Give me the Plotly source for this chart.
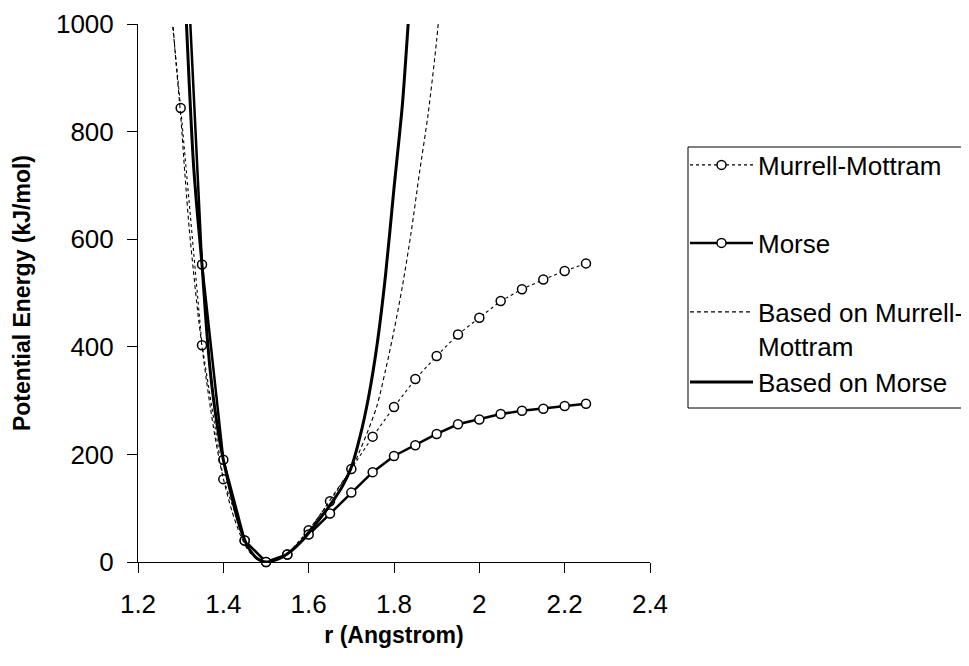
import plotly.graph_objects as go

# --- data ---
mm_r = [1.25, 1.30, 1.35, 1.40, 1.45, 1.50, 1.55, 1.60, 1.65, 1.70, 1.75, 1.80,
        1.85, 1.90, 1.95, 2.00, 2.05, 2.10, 2.15, 2.20, 2.25]
mm_e = [1250, 844, 403, 154, 40, 0, 14, 59, 113, 173, 233, 288,
        340, 383, 423, 454, 485, 507, 525, 541, 555]

morse_r = [1.30, 1.35, 1.40, 1.45, 1.50, 1.55, 1.60, 1.65, 1.70, 1.75, 1.80,
           1.85, 1.90, 1.95, 2.00, 2.05, 2.10, 2.15, 2.20, 2.25]
morse_e = [1370, 553, 190, 40, 0, 14, 51, 90, 129, 167, 197,
           217, 238, 256, 265, 275, 281, 285, 290, 294]

bmm_r = [1.27, 1.28, 1.29, 1.30, 1.31, 1.32, 1.33, 1.34, 1.35, 1.36, 1.37, 1.38,
         1.39, 1.40, 1.42, 1.44, 1.46, 1.48, 1.50, 1.52, 1.54, 1.56, 1.58, 1.60,
         1.62, 1.64, 1.66, 1.68, 1.70, 1.72, 1.74, 1.76, 1.78, 1.80, 1.82, 1.84,
         1.86, 1.88, 1.90, 1.91]
bmm_e = [1150, 1020, 920, 830, 720, 620, 540, 465, 400, 340, 285, 235,
         192, 155, 95, 50, 20, 5, 0, 3, 10, 22, 38, 58,
         80, 103, 127, 150, 172, 207, 246, 290, 356, 430, 514, 612,
         725, 833, 970, 1060]

bm_r = [1.30, 1.31, 1.32, 1.33, 1.34, 1.35, 1.36, 1.37, 1.38, 1.39, 1.40, 1.42,
        1.44, 1.46, 1.48, 1.50, 1.52, 1.54, 1.56, 1.58, 1.60, 1.62, 1.64, 1.66,
        1.68, 1.70, 1.72, 1.74, 1.76, 1.78, 1.80, 1.81, 1.82, 1.83, 1.84]
bm_e = [1200, 1060, 890, 740, 640, 553, 440, 350, 285, 232, 190, 120,
        62, 25, 6, 0, 3, 10, 21, 36, 54, 74, 95, 117,
        142, 176, 232, 305, 402, 532, 695, 772, 853, 963, 1080]

x_ticks = [1.2, 1.4, 1.6, 1.8, 2.0, 2.2, 2.4]
y_ticks = [0, 200, 400, 600, 800, 1000]

FONT = "Liberation Sans, Arial, sans-serif"
marker_style = dict(symbol="circle", size=9, color="white",
                    line=dict(color="black", width=1.5))

fig = go.Figure()
fig.add_trace(go.Scatter(
    x=mm_r, y=mm_e, mode="lines+markers", name="Murrell-Mottram",
    line=dict(color="black", width=1.1, dash="3px,3px"),
    marker=marker_style, cliponaxis=False, legend="legend", showlegend=True))
fig.add_trace(go.Scatter(
    x=morse_r, y=morse_e, mode="lines+markers", name="Morse",
    line=dict(color="black", width=2.5),
    marker=marker_style, cliponaxis=False, legend="legend2", showlegend=True))
fig.add_trace(go.Scatter(
    x=bmm_r, y=bmm_e, mode="lines", name="Based on Murrell-<br>Mottram",
    line=dict(color="black", width=1.1, dash="4px,3px", shape="spline", smoothing=0.8),
    legend="legend3", showlegend=True))
fig.add_trace(go.Scatter(
    x=bm_r, y=bm_e, mode="lines", name="Based on Morse",
    line=dict(color="black", width=3, shape="spline", smoothing=0.8),
    legend="legend4", showlegend=True))

# page has an 8px body margin; plot area bounds in page pixels
OFF = 8
L, R, T, B = 138, 650, 24, 562
W, H = 953, 650
def px(xp):
    return (xp - L) / (R - L)
def py(yp):
    return (B - yp) / (B - T)

leg_common = dict(xanchor="left", yanchor="middle", bgcolor="rgba(0,0,0,0)",
                  borderwidth=0, itemwidth=63, valign="top",
                  font=dict(family=FONT, size=26, color="black"))
fig.update_layout(
    width=W, height=H, showlegend=True,
    margin=dict(l=L - OFF, r=W - (R - OFF), t=T - OFF, b=H - (B - OFF), autoexpand=False),
    paper_bgcolor="white", plot_bgcolor="white",
    font=dict(family=FONT, color="black"),
    legend=dict(x=px(685), y=py(165), **leg_common),
    legend2=dict(x=px(685), y=py(243), **leg_common),
    legend3=dict(x=px(685), y=py(329), **leg_common),
    legend4=dict(x=px(685), y=py(382), **leg_common),
    xaxis=dict(range=[1.2, 2.4], tickvals=x_ticks, showgrid=False, zeroline=False,
               showline=True, linecolor="black", linewidth=1,
               ticks="outside", ticklen=10, tickcolor="black",
               ticklabelstandoff=9,
               tickfont=dict(family=FONT, size=26, color="black"),
               title=dict(text="<b>r (Angstrom)</b>", standoff=8,
                          font=dict(family=FONT, size=23, color="black"))),
    yaxis=dict(range=[0, 1000], tickvals=y_ticks, showgrid=False, zeroline=False,
               showline=True, linecolor="black", linewidth=1,
               ticks="outside", ticklen=10, tickcolor="black",
               ticklabelstandoff=8,
               tickfont=dict(family=FONT, size=26, color="black"),
               title=dict(text="<b>Potential Energy (kJ/mol)</b>", standoff=18,
                          font=dict(family=FONT, size=23, color="black"))),
    shapes=[dict(type="rect", xref="paper", yref="paper",
                 x0=px(688), x1=px(990), y0=py(408), y1=py(147),
                 line=dict(color="black", width=1), fillcolor="rgba(0,0,0,0)")],
)

fig.write_html("out.html")
